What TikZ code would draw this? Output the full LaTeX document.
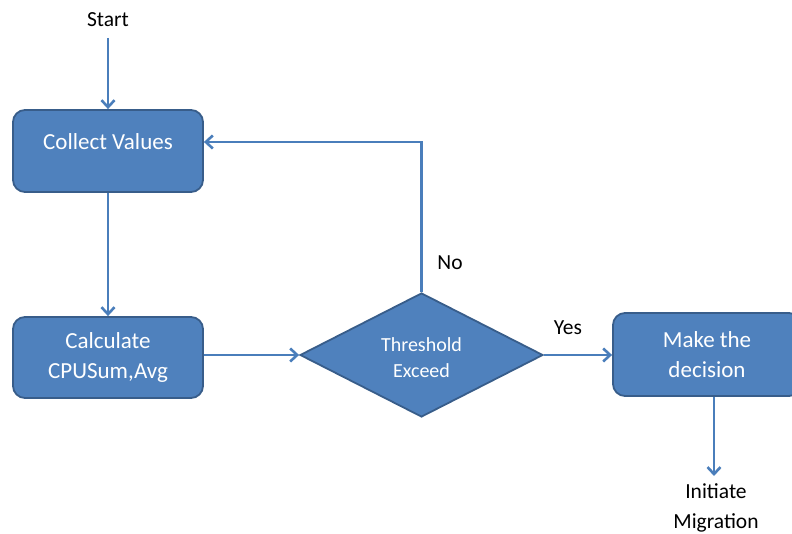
\documentclass[tikz,border=0pt]{standalone}
\usepackage{fontspec}
\setmainfont{Carlito}
\usetikzlibrary{shapes.geometric,arrows.meta}
\definecolor{boxfill}{HTML}{4F81BD}
\definecolor{boxline}{HTML}{385D8A}
\definecolor{arr}{HTML}{4A7EBB}
\tikzset{
  procbox/.style={draw=boxline,fill=boxfill,line width=1.8pt,rounded corners=12pt,text=white,font=\fontsize{23}{30}\selectfont,align=center,inner sep=0pt},
  decbox/.style={draw=boxline,fill=boxfill,line width=1.8pt,diamond,inner sep=0pt},
  lbl/.style={font=\fontsize{21.5}{30}\selectfont,text=black,align=center,inner sep=0pt},
  conn/.style={draw=arr,line width=2.6pt,-{Straight Barb[length=7pt,width=13pt,line width=2.6pt]}}
}
\begin{document}
\begin{tikzpicture}[x=1pt,y=-1pt]
\useasboundingbox (0,0) rectangle (792,534);
\node[lbl] (start) at (108,20) {Start};
\node[procbox,minimum width=190pt,minimum height=82pt] (collect) at (108,151) {};
\node[text=white,font=\fontsize{23}{30}\selectfont] (colltxt) at (108,142) {Collect Values};
\node[procbox,minimum width=190pt,minimum height=81pt] (calc) at (108,357.5) {Calculate\\CPUSum,Avg};
\node[decbox,minimum width=243pt,minimum height=124pt] (thr) at (421.5,355) {};
\node[text=white,font=\fontsize{20}{26}\selectfont,align=center] (thrtxt) at (421.5,358) {Threshold\\Exceed};
\node[procbox,minimum width=188pt,minimum height=83pt] (make) at (707,354.5) {Make the\\decision};
\node[lbl] (init) at (716,508) {Initiate\\Migration};
\coordinate (startend) at (108,38);
\coordinate (migtop) at (714,476);
\coordinate (turn) at (421.5,142);
\draw[conn] (startend) -- (collect.north);
\draw[conn] (collect.south) -- (calc.north);
\draw[conn] (calc.east |- thr.west) -- (thr.west);
\draw[conn] (thr.north) -- (turn) -- (collect.east |- turn);
\draw[conn] (thr.east) -- (make.west |- thr.east);
\draw[conn] (make.south -| migtop) -- (migtop);
\node[lbl] (no) at (450,263) {No};
\node[lbl] (yes) at (568,328) {Yes};
\end{tikzpicture}
\end{document}
